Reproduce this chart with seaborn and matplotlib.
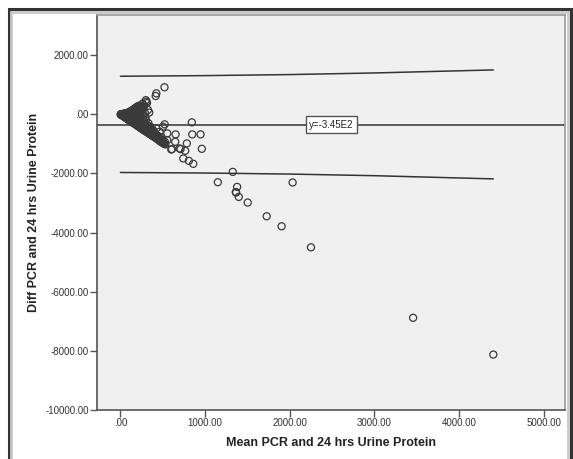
import matplotlib
matplotlib.use("Agg")
import matplotlib.pyplot as plt
from matplotlib.patches import Rectangle
from matplotlib.ticker import FuncFormatter
import pandas as pd
import seaborn as sns

# mean of PCR and 24 hrs urine protein, and their difference
mean_pcr = [3, 5, 6, 8, 10, 12, 14, 15, 18, 20, 22, 25, 27, 30, 32, 35, 37, 40, 42, 45,
            48, 50, 52, 55, 58, 60, 62, 65, 68, 70, 72, 75, 78, 80, 82, 85, 88, 90, 92, 95,
            98, 100, 102, 104,
            106, 108, 110, 112, 115, 118, 120, 122, 125, 128, 130, 132, 135, 138, 140, 142,
            145, 148, 150, 152, 155, 158, 160, 162, 165, 168, 170, 172, 175, 178, 180, 182,
            185, 188, 190, 192, 195, 198, 200, 202, 205, 208, 210, 212, 215, 218, 220, 222,
            225, 228, 230, 232, 235, 238, 240, 242, 245, 248, 250,
            60, 70, 80, 90, 100, 110, 115, 125, 130, 135, 145, 150, 155, 160, 165, 170,
            175, 180, 185, 190, 195, 200, 205, 210, 215, 220, 225, 230, 235, 240, 245, 250,
            255, 260, 265, 270, 275, 280, 285, 290, 295, 300, 310, 320, 330, 340, 350, 360,
            370, 380, 400, 420, 440, 460, 480, 500,
            260, 280, 300, 308, 313, 325, 340, 416, 424, 520,
            255, 258, 262, 265, 268, 272, 276, 280, 284, 288, 292, 296, 300, 304, 308, 312,
            316, 320, 325, 330, 335, 340, 345, 350, 356, 362, 368, 365, 374, 380, 386, 392,
            398, 404, 410, 416, 422, 424, 428, 436, 444, 450, 458, 463, 466, 474, 480, 484,
            492, 502, 500, 510, 518, 522, 525, 530,
            553, 553, 600, 608, 647, 651, 698, 710, 742, 765, 784, 808, 843, 848, 860, 946, 961,
            1150, 1326, 1366, 1362, 1378, 1397, 1503, 1727, 1903, 2033, 2250, 3456, 4403]
diff_pcr = [0, -6, 5, -12, 3, -20, -5, 8, -28, -10, 12, -40, -18, 5, -55, -30, 18, -70, -45, -8,
            -85, -55, 25, -100, -70, -20, -115, -85, 35, -130, -95, -40, -145, -110, 20, -160, -125, -60, -175, -140,
            45, -190, -150, -90,
            60, -200, -160, 10, -215, -120, 90, -230, -180, -50, -245, 120, -200, -260, 40, -140,
            -275, 150, -225, -290, -80, 170, -305, -250, -180, 200, -320, -270, 60, -335, -290, 220,
            -350, -210, -310, 250, -370, -120, -330, -385, 270, -350, -400, 140, -260, -415, 290, -370,
            -430, -30, -390, -445, 300, -300, -460, -410, 200, -475, -180,
            40, -30, 50, -10, 70, -60, 100, 30, -100, 130, -30, 60, -170, 110, -20, -230,
            150, -100, 30, -240, 180, -200, 70, -150, 200, -60, -300, 100, -200, 230, -350, 0,
            -300, 150, -400, -150, 250, -450, -250, 40, -350, -200, -480, -380, -500, -400, -600, -530,
            -450, -600, -650, -700, -720, -800, -780, -880,
            360, 300, 480, 430, 380, 150, 60, 620, 710, 915,
            -490, -430, -505, -250, -515, -460, -530, -380, -545, -490, -560, -100, -575, -520, -590, -430,
            -605, -550, -620, -300, -640, -580, -660, -480, -680, -620, -700, -644, -720, -660, -740, -560,
            -760, -700, -780, -740, -800, -475, -820, -840, -770, -860, -880, -590, -900, -920, -850, -935,
            -950, -420, -965, -980, -1000, -339, -930, -1015,
            -644, -871, -1187, -1176, -928, -678, -1153, -1176, -1492, -1234, -983, -1573, -271, -678, -1674, -678, -1166,
            -2295, -1946, -2644, -2630, -2454, -2793, -2983, -3447, -3786, -2305, -4498, -6881, -8125]

# limits of agreement lines and mean difference
loa_x = [0, 1000, 2000, 3000, 4403]
loa_upper = [1288, 1310, 1345, 1400, 1502]
loa_lower = [-1966, -1985, -2020, -2075, -2183]
mean_diff = -345
mean_label = "y=-3.45E2"

x_ticks = [0, 1000, 2000, 3000, 4000, 5000]
y_ticks = [2000, 0, -2000, -4000, -6000, -8000, -10000]


def spss_fmt(v, pos=None):
    s = f"{v:.2f}"
    if s in ("0.00", "-0.00"):
        return ".00"
    return s


sns.set_theme(style="white")
plt.rcParams['font.family'] = ['Liberation Sans', 'DejaVu Sans']

df = pd.DataFrame({'mean': mean_pcr, 'diff': diff_pcr})
loa = pd.DataFrame({'x': loa_x, 'upper': loa_upper, 'lower': loa_lower})

fig = plt.figure(figsize=(5.73, 4.59), dpi=100)
fig.patch.set_facecolor('white')

# outer frame like the SPSS output window
fig.patches.append(Rectangle((9 / 573, -0.02), 562 / 573, 1 - 9 / 459 + 0.02,
                             transform=fig.transFigure, facecolor='white',
                             edgecolor='#333333', linewidth=2.2, zorder=-2))
fig.patches.append(Rectangle((11 / 573, -0.02), 557 / 573, 1 - 12 / 459 + 0.02,
                             transform=fig.transFigure, facecolor='none',
                             edgecolor='#c8c8c8', linewidth=2, zorder=-1))

ax = fig.add_axes([97 / 573, 1 - 410 / 459, 468 / 573, 395 / 459])
ax.set_facecolor('#f0f0f0')

sns.lineplot(data=loa, x='x', y='upper', ax=ax, color='#333333', linewidth=1.1, zorder=2)
sns.lineplot(data=loa, x='x', y='lower', ax=ax, color='#333333', linewidth=1.1, zorder=2)
ax.axhline(mean_diff, color='#333333', linewidth=1.1, zorder=2)

sns.scatterplot(data=df, x='mean', y='diff', ax=ax, marker='o', s=26,
                facecolor='none', edgecolor='#3a3a3a', linewidth=0.9, zorder=3)

ax.text(2490, mean_diff, mean_label, fontsize=7, ha='center', va='center', color='#222222',
        bbox=dict(boxstyle='square,pad=0.35', facecolor='white', edgecolor='#555555', linewidth=1),
        zorder=4)

ax.set_xlim(-277, 5250)
ax.set_ylim(-10000, 3360)
ax.set_xticks(x_ticks)
ax.set_yticks(y_ticks)
ax.xaxis.set_major_formatter(FuncFormatter(spss_fmt))
ax.yaxis.set_major_formatter(FuncFormatter(spss_fmt))
ax.tick_params(bottom=True, left=True, direction='out', length=5, width=1,
               color='#555555', labelsize=7, labelcolor='#333333', pad=1)

for side in ['left', 'bottom']:
    ax.spines[side].set_color('#555555')
    ax.spines[side].set_linewidth(1.2)
for side in ['top', 'right']:
    ax.spines[side].set_color('#999999')
    ax.spines[side].set_linewidth(1.2)

ax.set_xlabel("Mean PCR and 24 hrs Urine Protein", fontsize=9, fontweight='bold',
              color='#222222', labelpad=6)
ax.set_ylabel("Diff PCR and 24 hrs Urine Protein", fontsize=9, fontweight='bold',
              color='#222222', labelpad=4)

fig.savefig("out.png", dpi=100)
